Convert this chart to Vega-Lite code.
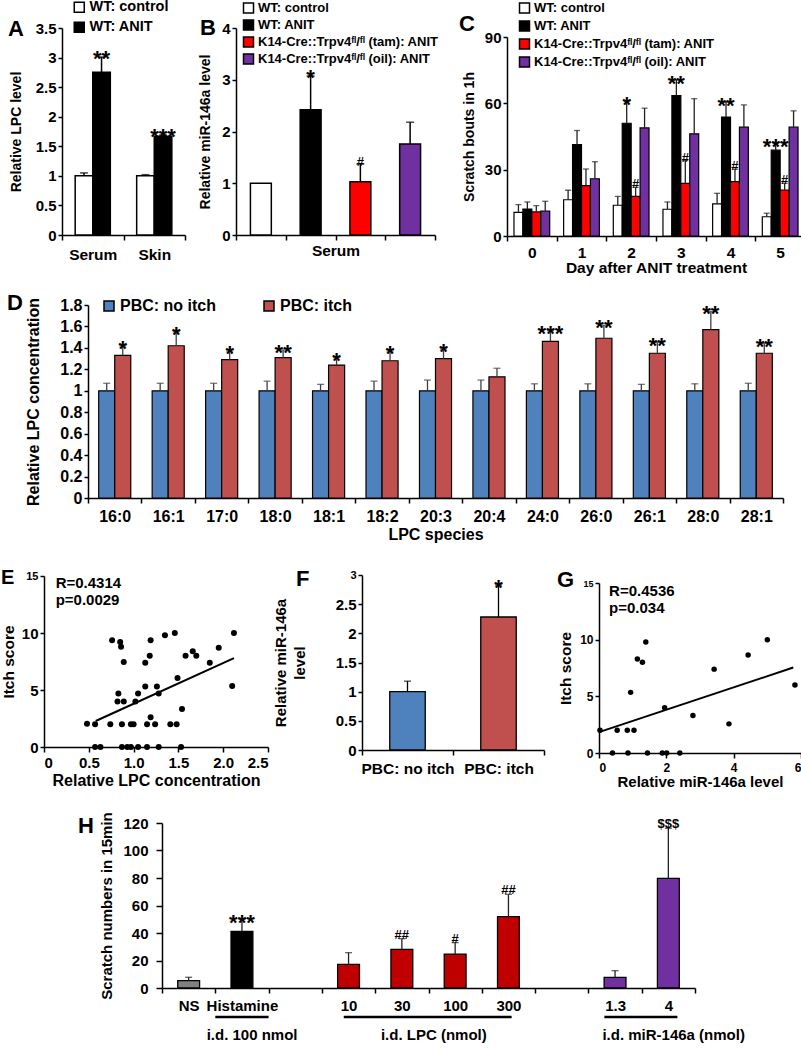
{
"$schema": "https://vega.github.io/schema/vega-lite/v6.json",
"background": "white",
"padding": {"left": 0, "top": 0, "right": 0, "bottom": 0},
"config": {
  "font": "Liberation Sans",
  "view": {"stroke": null},
  "axis": {"grid": false, "labelOverlap": false, "labelFont": "Liberation Sans", "titleFont": "Liberation Sans", "labelFontWeight": "bold", "titleFontWeight": "bold", "labelColor": "#000", "titleColor": "#000", "domainColor": "#000", "tickColor": "#000", "labelFontSize": 15, "titleFontSize": 14, "domainWidth": 1.5, "tickWidth": 1.5, "tickSize": 4, "labelPadding": 2, "titlePadding": 5},
  "axisX": {"labelAngle": 0, "tickSize": 5, "labelPadding": 6},
  "legend": {"labelFont": "Liberation Sans", "labelFontWeight": "bold", "labelFontSize": 13, "labelColor": "#000", "symbolType": "square", "symbolStrokeColor": "#000", "symbolStrokeWidth": 1.5, "symbolSize": 100, "rowPadding": 3, "labelOffset": 3, "labelLimit": 400},
  "title": {"font": "Liberation Sans", "fontWeight": "bold", "color": "#000", "anchor": "start", "frame": "group", "fontSize": 22, "baseline": "alphabetic", "offset": 0},
  "text": {"font": "Liberation Sans", "fontWeight": "bold", "color": "#000"}
},
"vconcat": [
 {"vconcat": [
  {"hconcat": [
    {"width": 8, "height": 5, "data": {"values": [{}]}, "mark": {"type": "rect", "opacity": 0}},
    {"hconcat": [
      {"hconcat": [
        {
         "width": 123, "height": 207,
         "title": {"text": "A", "dx": -54, "dy": 45},
         "data": {"values": [
           {"c": "Serum", "ga": "WT: control", "v": 1.0, "e": 1.05, "s": ""},
           {"c": "Serum", "ga": "WT: ANIT", "v": 2.75, "e": 3.01, "s": "**"},
           {"c": "Skin", "ga": "WT: control", "v": 1.0, "e": 1.02, "s": ""},
           {"c": "Skin", "ga": "WT: ANIT", "v": 1.67, "e": 1.69, "s": "***"}]},
         "encoding": {
           "x": {"field": "c", "type": "nominal", "sort": null, "scale": {"paddingInner": 0, "paddingOuter": 0}, "axis": {"title": null, "tickBand": "extent", "labelFontSize": 15.5, "labelPadding": 7}},
           "xOffset": {"field": "ga", "type": "nominal", "sort": null, "scale": {"paddingInner": 0, "paddingOuter": 0.75}}
         },
         "layer": [
           {"mark": {"type": "bar", "stroke": "#000", "strokeWidth": 1.5},
            "encoding": {
              "y": {"field": "v", "type": "quantitative", "scale": {"domain": [0, 3.5], "nice": false}, "axis": {"values": [0, 0.5, 1, 1.5, 2, 2.5, 3, 3.5], "tickCount": 20, "labelOverlap": false, "format": "~g", "title": "Relative LPC level", "titlePadding": 12}},
              "fill": {"field": "ga", "type": "nominal", "scale": {"domain": ["WT: control", "WT: ANIT"], "range": ["#ffffff", "#000000"]}, "legend": {"title": null, "orient": "none", "legendX": 10, "legendY": -28, "labelFontSize": 14.5}}}},
           {"mark": {"type": "rule", "color": "#000", "strokeWidth": 1.5}, "encoding": {"y": {"field": "v", "type": "quantitative"}, "y2": {"field": "e"}}},
           {"mark": {"type": "tick", "color": "#000", "thickness": 1.5, "size": 8}, "encoding": {"y": {"field": "e", "type": "quantitative"}}},
           {"mark": {"type": "text", "fontSize": 22, "dy": 2}, "encoding": {"y": {"field": "e", "type": "quantitative"}, "text": {"field": "s"}}}
         ]
        },
        {
         "width": 199, "height": 207,
         "title": {"text": "B", "dx": -36, "dy": 44},
         "data": {"values": [
           {"gb": "WT: control", "v": 1.0, "e": null, "s": ""},
           {"gb": "WT: ANIT", "v": 2.42, "e": 3.07, "s": "*"},
           {"gb": "K14-Cre::Trpv4ᶠˡ/ᶠˡ (tam): ANIT", "v": 1.03, "e": 1.37, "s": "#"},
           {"gb": "K14-Cre::Trpv4ᶠˡ/ᶠˡ (oil): ANIT", "v": 1.76, "e": 2.18, "s": ""}]},
         "encoding": {
           "x": {"field": "gb", "type": "nominal", "sort": null, "scale": {"paddingInner": 0, "paddingOuter": 0}, "axis": {"title": "Serum", "labels": false, "tickBand": "extent", "titleFontSize": 15.5, "titlePadding": 3}}
         },
         "layer": [
           {"mark": {"type": "bar", "stroke": "#000", "strokeWidth": 1.5, "width": {"band": 0.42}},
            "encoding": {
              "y": {"field": "v", "type": "quantitative", "scale": {"domain": [0, 4], "nice": false}, "axis": {"values": [0, 1, 2, 3, 4], "tickCount": 20, "labelOverlap": false, "format": "~g", "title": "Relative miR-146a level", "titlePadding": 9}},
              "fill": {"field": "gb", "type": "nominal", "scale": {"domain": ["WT: control", "WT: ANIT", "K14-Cre::Trpv4ᶠˡ/ᶠˡ (tam): ANIT", "K14-Cre::Trpv4ᶠˡ/ᶠˡ (oil): ANIT"], "range": ["#ffffff", "#000000", "#ff0000", "#7030a0"]}, "legend": {"title": null, "orient": "none", "legendX": 6, "legendY": -28, "clipHeight": 16, "rowPadding": 1}}}},
           {"transform": [{"filter": "datum.e != null"}], "mark": {"type": "rule", "color": "#000", "strokeWidth": 1.5}, "encoding": {"y": {"field": "v", "type": "quantitative"}, "y2": {"field": "e"}}},
           {"transform": [{"filter": "datum.e != null"}], "mark": {"type": "tick", "color": "#000", "thickness": 1.5, "size": 8}, "encoding": {"y": {"field": "e", "type": "quantitative"}}},
           {"transform": [{"filter": "datum.s == '*'"}], "mark": {"type": "text", "fontSize": 22, "dy": 2}, "encoding": {"y": {"field": "e", "type": "quantitative"}, "text": {"field": "s"}}},
           {"transform": [{"filter": "datum.s == '#'"}], "mark": {"type": "text", "fontSize": 13, "dy": -2}, "encoding": {"y": {"field": "e", "type": "quantitative"}, "text": {"field": "s"}}}
         ]
        }
      ], "spacing": 12, "resolve": {"scale": {"fill": "independent", "xOffset": "independent"}, "legend": {"fill": "independent"}}},
      {
       "width": 298, "height": 208,
       "title": {"text": "C", "dx": -48, "dy": 40},
       "data": {"values": [
         {"d": "0", "gc": "WT: control", "v": 10.7, "e": 14.2, "s": ""},
         {"d": "0", "gc": "WT: ANIT", "v": 12.2, "e": 15.4, "s": ""},
         {"d": "0", "gc": "K14-Cre::Trpv4ᶠˡ/ᶠˡ (tam): ANIT", "v": 10.9, "e": 13.7, "s": ""},
         {"d": "0", "gc": "K14-Cre::Trpv4ᶠˡ/ᶠˡ (oil): ANIT", "v": 11.3, "e": 15.7, "s": ""},
         {"d": "1", "gc": "WT: control", "v": 16.4, "e": 20.7, "s": ""},
         {"d": "1", "gc": "WT: ANIT", "v": 41.3, "e": 47.7, "s": ""},
         {"d": "1", "gc": "K14-Cre::Trpv4ᶠˡ/ᶠˡ (tam): ANIT", "v": 22.8, "e": 30.3, "s": ""},
         {"d": "1", "gc": "K14-Cre::Trpv4ᶠˡ/ᶠˡ (oil): ANIT", "v": 25.9, "e": 33.6, "s": ""},
         {"d": "2", "gc": "WT: control", "v": 13.9, "e": 17.9, "s": ""},
         {"d": "2", "gc": "WT: ANIT", "v": 51.0, "e": 60.9, "s": "*"},
         {"d": "2", "gc": "K14-Cre::Trpv4ᶠˡ/ᶠˡ (tam): ANIT", "v": 17.9, "e": 22.0, "s": "#"},
         {"d": "2", "gc": "K14-Cre::Trpv4ᶠˡ/ᶠˡ (oil): ANIT", "v": 48.9, "e": 57.8, "s": ""},
         {"d": "3", "gc": "WT: control", "v": 12.1, "e": 15.4, "s": ""},
         {"d": "3", "gc": "WT: ANIT", "v": 63.5, "e": 70.6, "s": "**"},
         {"d": "3", "gc": "K14-Cre::Trpv4ᶠˡ/ᶠˡ (tam): ANIT", "v": 23.8, "e": 34.1, "s": "#"},
         {"d": "3", "gc": "K14-Cre::Trpv4ᶠˡ/ᶠˡ (oil): ANIT", "v": 46.2, "e": 62.1, "s": ""},
         {"d": "4", "gc": "WT: control", "v": 14.5, "e": 19.3, "s": ""},
         {"d": "4", "gc": "WT: ANIT", "v": 53.8, "e": 60.6, "s": "**"},
         {"d": "4", "gc": "K14-Cre::Trpv4ᶠˡ/ᶠˡ (tam): ANIT", "v": 24.6, "e": 30.2, "s": "#"},
         {"d": "4", "gc": "K14-Cre::Trpv4ᶠˡ/ᶠˡ (oil): ANIT", "v": 49.2, "e": 59.3, "s": ""},
         {"d": "5", "gc": "WT: control", "v": 8.7, "e": 10.3, "s": ""},
         {"d": "5", "gc": "WT: ANIT", "v": 38.8, "e": 41.9, "s": "***"},
         {"d": "5", "gc": "K14-Cre::Trpv4ᶠˡ/ᶠˡ (tam): ANIT", "v": 20.8, "e": 23.8, "s": "#"},
         {"d": "5", "gc": "K14-Cre::Trpv4ᶠˡ/ᶠˡ (oil): ANIT", "v": 49.3, "e": 56.6, "s": ""}]},
       "encoding": {
         "x": {"field": "d", "type": "ordinal", "sort": null, "scale": {"paddingInner": 0, "paddingOuter": 0}, "axis": {"title": "Day after ANIT treatment", "tickBand": "extent", "labelFontSize": 15.5, "titleFontSize": 15.5, "titlePadding": 0, "labelPadding": 4}},
         "xOffset": {"field": "gc", "type": "nominal", "sort": null, "scale": {"paddingInner": 0, "paddingOuter": 0.78}}
       },
       "layer": [
         {"mark": {"type": "bar", "stroke": "#000", "strokeWidth": 1.2},
          "encoding": {
            "y": {"field": "v", "type": "quantitative", "scale": {"domain": [0, 90], "nice": false, "range": [208, 9]}, "axis": {"values": [0, 30, 60, 90], "tickCount": 20, "labelOverlap": false, "title": "Scratch bouts in 1h", "titlePadding": 8}},
            "fill": {"field": "gc", "type": "nominal", "scale": {"domain": ["WT: control", "WT: ANIT", "K14-Cre::Trpv4ᶠˡ/ᶠˡ (tam): ANIT", "K14-Cre::Trpv4ᶠˡ/ᶠˡ (oil): ANIT"], "range": ["#ffffff", "#000000", "#ff0000", "#7030a0"]}, "legend": {"title": null, "orient": "none", "legendX": 11, "legendY": -28, "clipHeight": 16, "rowPadding": 2}}}},
         {"mark": {"type": "rule", "color": "#222", "strokeWidth": 1.3}, "encoding": {"y": {"field": "v", "type": "quantitative"}, "y2": {"field": "e"}}},
         {"mark": {"type": "tick", "color": "#222", "thickness": 1.3, "size": 6}, "encoding": {"y": {"field": "e", "type": "quantitative"}}},
         {"transform": [{"filter": "indexof(datum.s, '*') >= 0"}], "mark": {"type": "text", "fontSize": 22, "dy": 4}, "encoding": {"y": {"field": "e", "type": "quantitative"}, "text": {"field": "s"}}},
         {"transform": [{"filter": "datum.s == '#'"}], "mark": {"type": "text", "fontSize": 13, "dy": -3}, "encoding": {"y": {"field": "e", "type": "quantitative"}, "text": {"field": "s"}}}
       ]
      }
    ], "spacing": 20, "resolve": {"scale": {"fill": "independent", "xOffset": "independent"}, "legend": {"fill": "independent"}}}
  ], "spacing": 0, "resolve": {"scale": {"fill": "independent", "xOffset": "independent"}, "legend": {"fill": "independent"}}},
  {"hconcat": [
    {"width": 7, "height": 5, "data": {"values": [{}]}, "mark": {"type": "rect", "opacity": 0}},
    {
     "width": 695, "height": 193,
     "title": {"text": "D", "dx": -81, "dy": 22},
     "data": {"values": [
       {"c": "16:0", "gd": "PBC: no itch", "v": 1, "e": 1.07, "s": ""},
       {"c": "16:0", "gd": "PBC: itch", "v": 1.33, "e": 1.42, "s": "*"},
       {"c": "16:1", "gd": "PBC: no itch", "v": 1, "e": 1.07, "s": ""},
       {"c": "16:1", "gd": "PBC: itch", "v": 1.42, "e": 1.55, "s": "*"},
       {"c": "17:0", "gd": "PBC: no itch", "v": 1, "e": 1.07, "s": ""},
       {"c": "17:0", "gd": "PBC: itch", "v": 1.29, "e": 1.37, "s": "*"},
       {"c": "18:0", "gd": "PBC: no itch", "v": 1, "e": 1.09, "s": ""},
       {"c": "18:0", "gd": "PBC: itch", "v": 1.31, "e": 1.38, "s": "**"},
       {"c": "18:1", "gd": "PBC: no itch", "v": 1, "e": 1.06, "s": ""},
       {"c": "18:1", "gd": "PBC: itch", "v": 1.24, "e": 1.31, "s": "*"},
       {"c": "18:2", "gd": "PBC: no itch", "v": 1, "e": 1.09, "s": ""},
       {"c": "18:2", "gd": "PBC: itch", "v": 1.28, "e": 1.37, "s": "*"},
       {"c": "20:3", "gd": "PBC: no itch", "v": 1, "e": 1.10, "s": ""},
       {"c": "20:3", "gd": "PBC: itch", "v": 1.30, "e": 1.39, "s": "*"},
       {"c": "20:4", "gd": "PBC: no itch", "v": 1, "e": 1.10, "s": ""},
       {"c": "20:4", "gd": "PBC: itch", "v": 1.13, "e": 1.21, "s": ""},
       {"c": "24:0", "gd": "PBC: no itch", "v": 1, "e": 1.065, "s": ""},
       {"c": "24:0", "gd": "PBC: itch", "v": 1.46, "e": 1.56, "s": "***"},
       {"c": "26:0", "gd": "PBC: no itch", "v": 1, "e": 1.065, "s": ""},
       {"c": "26:0", "gd": "PBC: itch", "v": 1.49, "e": 1.61, "s": "**"},
       {"c": "26:1", "gd": "PBC: no itch", "v": 1, "e": 1.06, "s": ""},
       {"c": "26:1", "gd": "PBC: itch", "v": 1.35, "e": 1.45, "s": "**"},
       {"c": "28:0", "gd": "PBC: no itch", "v": 1, "e": 1.065, "s": ""},
       {"c": "28:0", "gd": "PBC: itch", "v": 1.57, "e": 1.74, "s": "**"},
       {"c": "28:1", "gd": "PBC: no itch", "v": 1, "e": 1.07, "s": ""},
       {"c": "28:1", "gd": "PBC: itch", "v": 1.35, "e": 1.44, "s": "**"}]},
     "encoding": {
       "x": {"field": "c", "type": "nominal", "sort": null, "scale": {"paddingInner": 0, "paddingOuter": 0}, "axis": {"title": "LPC species", "tickBand": "extent", "labelFontSize": 16, "titleFontSize": 16, "titlePadding": 2, "labelPadding": 5}},
       "xOffset": {"field": "gd", "type": "nominal", "sort": null, "scale": {"paddingInner": 0, "paddingOuter": 0.667}}
     },
     "layer": [
       {"mark": {"type": "bar", "stroke": "#000", "strokeWidth": 1.2},
        "encoding": {
          "y": {"field": "v", "type": "quantitative", "scale": {"domain": [0, 1.8], "nice": false}, "axis": {"values": [0, 0.2, 0.4, 0.6, 0.8, 1, 1.2, 1.4, 1.6, 1.8], "tickCount": 20, "labelOverlap": false, "format": "~g", "title": "Relative LPC concentration", "labelFontSize": 16, "titleFontSize": 16, "titlePadding": 18}},
          "fill": {"field": "gd", "type": "nominal", "scale": {"domain": ["PBC: no itch", "PBC: itch"], "range": ["#4f81bd", "#c0504d"]}, "legend": {"title": null, "orient": "none", "direction": "horizontal", "legendX": 13, "legendY": -7, "columnPadding": 45, "labelFontSize": 16}}}},
       {"mark": {"type": "rule", "color": "#404040", "strokeWidth": 1.3}, "encoding": {"y": {"field": "v", "type": "quantitative"}, "y2": {"field": "e"}}},
       {"mark": {"type": "tick", "color": "#404040", "thickness": 1.3, "size": 7}, "encoding": {"y": {"field": "e", "type": "quantitative"}}},
       {"mark": {"type": "text", "fontSize": 22, "dy": 3}, "encoding": {"y": {"field": "e", "type": "quantitative"}, "text": {"field": "s"}}}
     ]
    }
  ], "spacing": 0, "resolve": {"scale": {"fill": "independent", "xOffset": "independent"}, "legend": {"fill": "independent"}}}
 ], "spacing": 16, "resolve": {"scale": {"fill": "independent", "xOffset": "independent"}, "legend": {"fill": "independent"}}},
 {"vconcat": [
  {"hconcat": [
    {"width": 1, "height": 5, "data": {"values": [{}]}, "mark": {"type": "rect", "opacity": 0}},
    {"hconcat": [
      {"hconcat": [
        {
         "width": 224, "height": 172,
         "title": {"text": "E", "dx": -43, "dy": 22, "fontSize": 20},
         "layer": [
           {"data": {"values": [
             {"x": 0.48, "y": 2.05}, {"x": 0.57, "y": 2}, {"x": 0.57, "y": 0}, {"x": 0.63, "y": 0}, {"x": 0.76, "y": 9.36},
             {"x": 0.74, "y": 2}, {"x": 0.83, "y": 4.7}, {"x": 0.82, "y": 4.0}, {"x": 0.85, "y": 9.2}, {"x": 0.86, "y": 8.8},
             {"x": 0.89, "y": 7.45}, {"x": 0.89, "y": 4.0}, {"x": 0.87, "y": 2}, {"x": 0.87, "y": 0}, {"x": 0.93, "y": 0},
             {"x": 0.97, "y": 2}, {"x": 1.0, "y": 2}, {"x": 0.97, "y": 0}, {"x": 1.02, "y": 4.0}, {"x": 1.05, "y": 4.7},
             {"x": 1.05, "y": 0}, {"x": 1.13, "y": 5.3}, {"x": 1.13, "y": 7.4}, {"x": 1.15, "y": 0}, {"x": 1.15, "y": 2},
             {"x": 1.18, "y": 8.0}, {"x": 1.19, "y": 9.36}, {"x": 1.19, "y": 2.6}, {"x": 1.24, "y": 2}, {"x": 1.26, "y": 5.3},
             {"x": 1.28, "y": 4.7}, {"x": 1.28, "y": 0}, {"x": 1.35, "y": 9.8}, {"x": 1.41, "y": 2}, {"x": 1.46, "y": 10},
             {"x": 1.48, "y": 2}, {"x": 1.49, "y": 6.05}, {"x": 1.54, "y": 3.33}, {"x": 1.53, "y": 0}, {"x": 1.58, "y": 8.0},
             {"x": 1.66, "y": 8.4}, {"x": 1.70, "y": 8.0}, {"x": 1.85, "y": 7.4}, {"x": 1.95, "y": 8.7}, {"x": 2.10, "y": 5.35},
             {"x": 2.12, "y": 10}]},
            "mark": {"type": "circle", "size": 36, "color": "#000", "opacity": 1},
            "encoding": {
              "x": {"field": "x", "type": "quantitative", "scale": {"domain": [0, 2.5], "nice": false}, "axis": {"values": [0, 0.5, 1, 1.5, 2, 2.5], "tickCount": 20, "labelOverlap": false, "labelExpr": "datum.value == 0 ? '0' : format(datum.value, '.1f')", "title": "Relative LPC concentration", "titleFontSize": 16, "titlePadding": 2, "labelPadding": 3}},
              "y": {"field": "y", "type": "quantitative", "scale": {"domain": [0, 15], "nice": false, "range": [172, 1]}, "axis": {"values": [0, 5, 10, 15], "tickCount": 20, "format": "d", "labelOverlap": false, "title": "Itch score", "titleFontSize": 15.5, "labelFontSize": {"condition": {"test": "datum.value == 15", "value": 11}, "value": 15}}}}},
           {"data": {"values": [{"x": 0.577, "y": 2.28}, {"x": 2.12, "y": 7.8}]},
            "mark": {"type": "line", "color": "#000", "strokeWidth": 2},
            "encoding": {"x": {"field": "x", "type": "quantitative"}, "y": {"field": "y", "type": "quantitative"}}},
           {"data": {"values": [{"x": 0.13, "y": 14.4, "t": "R=0.4314"}, {"x": 0.13, "y": 12.9, "t": "p=0.0029"}]},
            "mark": {"type": "text", "align": "left", "baseline": "middle", "fontSize": 15},
            "encoding": {"x": {"field": "x", "type": "quantitative"}, "y": {"field": "y", "type": "quantitative"}, "text": {"field": "t"}}}
         ]
        },
        {
         "width": 182, "height": 175,
         "title": {"text": "F", "dx": -66, "dy": 26},
         "data": {"values": [
           {"c": "PBC: no itch", "v": 1.0, "e": 1.18, "s": ""},
           {"c": "PBC: itch", "v": 2.28, "e": 2.83, "s": "*"}]},
         "encoding": {
           "x": {"field": "c", "type": "nominal", "sort": null, "scale": {"paddingInner": 0, "paddingOuter": 0}, "axis": {"title": null, "tickBand": "extent", "labelFontSize": 15.5, "labelPadding": 6}}
         },
         "layer": [
           {"mark": {"type": "bar", "stroke": "#000", "strokeWidth": 1.3, "width": {"band": 0.39}},
            "encoding": {
              "y": {"field": "v", "type": "quantitative", "scale": {"domain": [0, 3], "nice": false}, "axis": {"values": [0, 0.5, 1, 1.5, 2, 2.5, 3], "tickCount": 20, "labelOverlap": false, "format": "~g", "title": ["Relative miR-146a", "level"], "titleFontSize": 15, "titleLineHeight": 19, "titlePadding": 28, "labelFontSize": {"condition": {"test": "datum.value == 3", "value": 11}, "value": 15}}},
              "fill": {"field": "c", "type": "nominal", "scale": {"domain": ["PBC: no itch", "PBC: itch"], "range": ["#4f81bd", "#c0504d"]}, "legend": null}}},
           {"mark": {"type": "rule", "color": "#000", "strokeWidth": 1.3}, "encoding": {"y": {"field": "v", "type": "quantitative"}, "y2": {"field": "e"}}},
           {"mark": {"type": "tick", "color": "#000", "thickness": 1.3, "size": 7}, "encoding": {"y": {"field": "e", "type": "quantitative"}}},
           {"mark": {"type": "text", "fontSize": 22, "dy": 3}, "encoding": {"y": {"field": "e", "type": "quantitative"}, "text": {"field": "s"}}}
         ]
        }
      ], "spacing": 4, "resolve": {"scale": {"fill": "independent", "xOffset": "independent"}, "legend": {"fill": "independent"}}},
      {
       "width": 202, "height": 178,
       "title": {"text": "G", "dx": -42, "dy": 21},
       "layer": [
         {"data": {"values": [
           {"x": 0.03, "y": 2.0}, {"x": 0.40, "y": 0}, {"x": 0.54, "y": 2}, {"x": 0.84, "y": 2}, {"x": 0.86, "y": 0},
           {"x": 0.94, "y": 5.35}, {"x": 1.04, "y": 2}, {"x": 1.14, "y": 8.3}, {"x": 1.29, "y": 8.0}, {"x": 1.39, "y": 9.8},
           {"x": 1.44, "y": 0}, {"x": 1.88, "y": 0}, {"x": 1.95, "y": 4.0}, {"x": 2.01, "y": 0}, {"x": 2.40, "y": 0},
           {"x": 2.79, "y": 3.3}, {"x": 3.42, "y": 7.4}, {"x": 3.86, "y": 2.57}, {"x": 4.43, "y": 8.65}, {"x": 5.0, "y": 10},
           {"x": 5.82, "y": 6.0}]},
          "mark": {"type": "circle", "size": 30, "color": "#000", "opacity": 1},
          "encoding": {
            "x": {"field": "x", "type": "quantitative", "scale": {"domain": [0, 6], "nice": false}, "axis": {"values": [0, 2, 4, 6], "tickCount": 20, "format": "d", "labelOverlap": false, "title": "Relative miR-146a level", "titleFontSize": 15, "labelFontSize": 12, "titlePadding": 1, "labelPadding": 4}},
            "y": {"field": "y", "type": "quantitative", "scale": {"domain": [0, 15], "nice": false, "range": [178, 8]}, "axis": {"values": [0, 5, 10, 15], "tickCount": 20, "format": "d", "labelOverlap": false, "title": "Itch score", "titleFontSize": 15.5, "titlePadding": 6, "labelFontSize": {"condition": {"test": "datum.value == 15", "value": 9}, "value": 12}}}}},
         {"data": {"values": [{"x": 0, "y": 1.84}, {"x": 5.77, "y": 7.54}]},
          "mark": {"type": "line", "color": "#000", "strokeWidth": 2},
          "encoding": {"x": {"field": "x", "type": "quantitative"}, "y": {"field": "y", "type": "quantitative"}}},
         {"data": {"values": [{"x": 0.3, "y": 14.3, "t": "R=0.4536"}, {"x": 0.3, "y": 12.8, "t": "p=0.034"}]},
          "mark": {"type": "text", "align": "left", "baseline": "middle", "fontSize": 15},
          "encoding": {"x": {"field": "x", "type": "quantitative"}, "y": {"field": "y", "type": "quantitative"}, "text": {"field": "t"}}}
       ]
      }
    ], "spacing": 12, "resolve": {"scale": {"fill": "independent", "xOffset": "independent"}, "legend": {"fill": "independent"}}}
  ], "spacing": 0, "resolve": {"scale": {"fill": "independent", "xOffset": "independent"}, "legend": {"fill": "independent"}}},
  {"hconcat": [
    {"width": 78, "height": 5, "data": {"values": [{}]}, "mark": {"type": "rect", "opacity": 0}},
    {
     "width": 533, "height": 165,
     "title": {"text": "H", "dx": -84, "dy": 30},
     "layer": [
       {"data": {"values": [
         {"c": "NS", "v": 5.3, "e": 7.8, "s": ""},
         {"c": "Histamine", "v": 41.2, "e": 50, "s": "***"},
         {"c": "10", "v": 17.2, "e": 25.7, "s": ""},
         {"c": "30", "v": 28.1, "e": 35.9, "s": "##"},
         {"c": "100", "v": 24.7, "e": 33, "s": "#"},
         {"c": "300", "v": 51.9, "e": 68.1, "s": "##"},
         {"c": "1.3", "v": 7.8, "e": 12.6, "s": ""},
         {"c": "4", "v": 79.8, "e": 116.1, "s": "$$$"}]},
        "encoding": {
          "x": {"field": "c", "type": "nominal", "scale": {"domain": ["NS", "Histamine", " ", "10", "30", "100", "300", "  ", "1.3", "4"], "paddingInner": 0, "paddingOuter": 0}, "axis": {"title": null, "tickBand": "extent", "labelFontSize": 15, "labelPadding": 5}}
        },
        "layer": [
          {"mark": {"type": "bar", "stroke": "#000", "strokeWidth": 1.3, "width": {"band": 0.41}},
           "encoding": {
             "y": {"field": "v", "type": "quantitative", "scale": {"domain": [0, 120], "nice": false}, "axis": {"values": [0, 20, 40, 60, 80, 100, 120], "tickCount": 20, "format": "d", "labelOverlap": false, "title": "Scratch numbers in 15min", "titleFontSize": 15, "tickSize": 6, "labelPadding": 8, "titlePadding": 8}},
             "fill": {"field": "c", "type": "nominal", "scale": {"domain": ["NS", "Histamine", "10", "30", "100", "300", "1.3", "4"], "range": ["#808080", "#000000", "#c00000", "#c00000", "#c00000", "#c00000", "#7030a0", "#7030a0"]}, "legend": null}}},
          {"mark": {"type": "rule", "color": "#222", "strokeWidth": 1.3}, "encoding": {"y": {"field": "v", "type": "quantitative"}, "y2": {"field": "e"}}},
          {"mark": {"type": "tick", "color": "#222", "thickness": 1.3, "size": 7}, "encoding": {"y": {"field": "e", "type": "quantitative"}}},
          {"transform": [{"filter": "datum.s == '***'"}], "mark": {"type": "text", "fontSize": 22, "dy": 4}, "encoding": {"y": {"field": "e", "type": "quantitative"}, "text": {"field": "s"}}},
          {"transform": [{"filter": "datum.s != '***' && datum.s != ''"}], "mark": {"type": "text", "fontSize": 13, "dy": -4}, "encoding": {"y": {"field": "e", "type": "quantitative"}, "text": {"field": "s"}}}
        ]},
       {"data": {"values": [
         {"x1": 1, "x2": 2, "y": -21},
         {"x1": 3.41, "x2": 6.56, "y": -21},
         {"x1": 8.3, "x2": 9.67, "y": -21}]},
        "mark": {"type": "rule", "color": "#000", "strokeWidth": 2.5},
        "encoding": {"x": {"field": "x1", "type": "quantitative", "scale": {"domain": [0, 10], "nice": false}, "axis": null}, "x2": {"field": "x2"}, "y": {"field": "y", "type": "quantitative", "scale": {"domain": [0, 120], "nice": false}}}},
       {"data": {"values": [
         {"x": 1.69, "y": -34, "t": "i.d. 100 nmol"},
         {"x": 5.1, "y": -34, "t": "i.d. LPC (nmol)"},
         {"x": 9.6, "y": -34, "t": "i.d. miR-146a (nmol)"}]},
        "mark": {"type": "text", "fontSize": 15, "baseline": "middle"},
        "encoding": {"x": {"field": "x", "type": "quantitative", "scale": {"domain": [0, 10], "nice": false}, "axis": null}, "y": {"field": "y", "type": "quantitative", "scale": {"domain": [0, 120], "nice": false}}, "text": {"field": "t"}}}
     ],
     "resolve": {"scale": {"x": "independent", "fill": "independent"}, "axis": {"x": "independent"}}
    }
  ], "spacing": 0, "resolve": {"scale": {"fill": "independent", "xOffset": "independent"}, "legend": {"fill": "independent"}}}
 ], "spacing": 22, "resolve": {"scale": {"fill": "independent", "xOffset": "independent"}, "legend": {"fill": "independent"}}}
],
"spacing": 26,
"resolve": {"scale": {"fill": "independent", "xOffset": "independent"}, "legend": {"fill": "independent"}}
}
